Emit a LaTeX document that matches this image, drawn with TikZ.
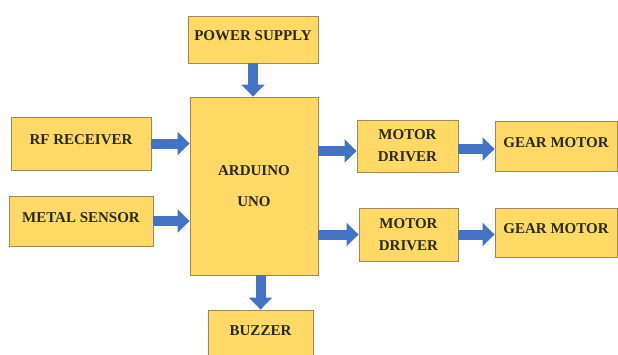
\documentclass[tikz,border=0pt]{standalone}
\usepackage{fontspec}
\setmainfont{Liberation Serif}
\usepackage{tikz}
\usetikzlibrary{arrows.meta,positioning,calc}

\definecolor{boxfill}{HTML}{FFD966}
\definecolor{boxline}{HTML}{9C8A55}
\definecolor{flowblue}{HTML}{4472C4}
\definecolor{txt}{HTML}{2A2A12}

\begin{document}
\begin{tikzpicture}[x=1pt,y=-1pt,
    font=\fontsize{15}{18}\selectfont\bfseries,
    blk/.style={draw=boxline,fill=boxfill,text=txt,line width=0.9pt,inner sep=0pt,align=center},
    one/.style={blk,text height=10pt,text depth=8pt},
    flow/.style={draw=flowblue,line width=10pt,-{Triangle[width=23pt,length=12pt]}}]
  \clip (0,0) rectangle (618,354);
  \fill[white] (0,0) rectangle (618,354);

  % blocks
  \node[one, minimum width=130pt, minimum height=47pt] (ps)  at (253,39.5)  {POWER SUPPLY};
  \node[blk, minimum width=128pt, minimum height=178pt] (ard) at (254,186) {ARDUINO\\[13pt]UNO};
  \node[one, minimum width=140pt, minimum height=53pt] (rf)  at (81,143.5)  {RF RECEIVER};
  \node[one, minimum width=144pt, minimum height=50pt] (ms)  at (81,221)    {METAL SENSOR};
  \node[blk, minimum width=101pt, minimum height=52pt] (md1) at (407.5,146) {MOTOR\\[4pt]DRIVER};
  \node[blk, minimum width=99pt,  minimum height=53pt] (md2) at (408.5,234.5) {MOTOR\\[4pt]DRIVER};
  \node[one, minimum width=122pt, minimum height=50pt] (gm1) at (556,146)   {GEAR MOTOR};
  \node[one, minimum width=122pt, minimum height=49pt] (gm2) at (556,232.5) {GEAR MOTOR};
  \node[one, minimum width=105pt, minimum height=48pt] (bz)  at (260.5,334) {BUZZER};

  % arrows
  \draw[flow] (ps.south) -- (ps.south |- ard.north);
  \draw[flow] (rf.east) -- (rf.east -| ard.west);
  \draw[flow] (ms.east) -- (ms.east -| ard.west);
  \draw[flow] ($(md1.west -| ard.east)+(0,5)$) -- ($(md1.west)+(0,5)$);
  \draw[flow] (md2.west -| ard.east) -- (md2.west);
  \draw[flow] ($(md1.east)+(0,3)$) -- ($(md1.east -| gm1.west)+(0,3)$);
  \draw[flow] (md2.east) -- (md2.east -| gm2.west);
  \draw[flow] (bz.north |- ard.south) -- (bz.north);
\end{tikzpicture}
\end{document}
